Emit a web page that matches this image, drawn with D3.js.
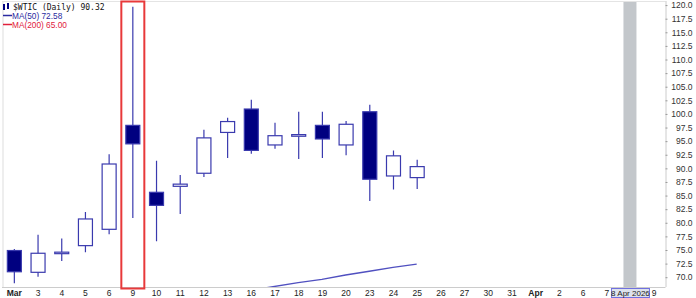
<!DOCTYPE html>
<html>
<head>
<meta charset="utf-8">
<script src="https://d3js.org/d3.v7.min.js"></script>
<style>
  body { margin: 0; padding: 0; background: #fff; }
  svg { display: block; font-family: "Liberation Sans", Arial, sans-serif; }
</style>
</head>
<body>
<div id="chart"></div>
<script>
// trading days shown on the axis (Mar 2 .. Apr 9, 2026)
const days = ["Mar", "3", "4", "5", "6", "9", "10", "11", "12", "13", "16", "17", "18", "19", "20",
  "23", "24", "25", "26", "27", "30", "31", "Apr", "2", "6", "7", "8", "9"];
const boldLabels = ["Mar", "Apr"];

// daily OHLC, in order from Mar 2
const opens  = [74.9, 70.9, 74.4, 75.8, 78.8, 97.9, 85.6, 86.7, 89.1, 96.6, 100.9, 94.3, 95.9, 97.9, 94.3, 100.4, 88.6, 88.3];
const highs  = [75.2, 77.8, 77.1, 82.0, 92.6, 119.7, 91.4, 88.8, 97.1, 99.3, 102.6, 98.4, 100.4, 100.4, 98.7, 101.7, 93.3, 91.6];
const lows   = [68.9, 70.1, 73.0, 74.6, 77.9, 80.9, 76.6, 81.6, 88.4, 91.9, 92.7, 93.6, 91.7, 91.9, 92.4, 84.0, 86.1, 86.2];
const closes = [71.0, 74.4, 74.6, 80.7, 90.8, 94.5, 83.2, 87.1, 95.6, 98.6, 93.3, 96.0, 96.2, 95.4, 98.1, 88.0, 92.3, 90.32];

// MA(50) from Mar 13 onwards (earlier values are below the visible range)
const maStart = 9;
const ma50 = [66.8, 67.6, 68.3, 69.0, 69.6, 70.4, 71.1, 71.8, 72.4];

const yTicks = d3.range(70, 120.01, 2.5);
const highlightDay = 5;   // Mar 9
const cursorDay = 26;     // Apr 8

const W = 696, H = 298;
const plot = { left: 2, right: 665.5, top: 1, bottom: 287 };

const svg = d3.select("#chart").append("svg").attr("width", W).attr("height", H);

const x = d3.scalePoint().domain(d3.range(days.length))
  .range([plot.left, plot.right]).padding(0.5);
const y = d3.scaleLinear().domain([68.2, 120.75]).range([plot.bottom, plot.top]);

svg.append("defs").append("clipPath").attr("id", "clip")
  .append("rect").attr("x", plot.left).attr("y", plot.top)
  .attr("width", plot.right - plot.left).attr("height", plot.bottom - plot.top);

// cursor band
svg.append("rect").attr("x", x(cursorDay) - 6.5).attr("y", plot.top)
  .attr("width", 13).attr("height", plot.bottom - plot.top).attr("fill", "#c3c7cb");

// frame
svg.append("line").attr("x1", plot.left + 1).attr("x2", plot.left + 1)
  .attr("y1", plot.top).attr("y2", plot.bottom).attr("stroke", "#ddd");
svg.append("line").attr("x1", plot.left).attr("x2", plot.right)
  .attr("y1", plot.top + 0.5).attr("y2", plot.top + 0.5).attr("stroke", "#e4e4e4");
svg.append("line").attr("x1", plot.left).attr("x2", plot.right)
  .attr("y1", plot.bottom + 0.5).attr("y2", plot.bottom + 0.5).attr("stroke", "#ccc");

// right axis
const yAxis = d3.axisRight(y).tickValues(yTicks).tickFormat(d3.format(".1f")).tickSize(2).tickPadding(0);
const gy = svg.append("g").attr("transform", `translate(${plot.right},0)`).call(yAxis);
gy.select(".domain").attr("stroke", "#ccc").attr("d", `M0.5,${plot.top}V${plot.bottom}`);
gy.selectAll(".tick line").attr("stroke", "#999");
gy.selectAll(".tick text").attr("x", 27).attr("text-anchor", "end")
  .attr("fill", "#333").style("font-size", "8.5px").style("font-family", "Liberation Sans, Arial, sans-serif");

// x labels
const xAxis = d3.axisBottom(x).tickFormat(i => days[i]).tickSize(0);
const gx = svg.append("g").attr("transform", `translate(0,${plot.bottom})`).call(xAxis);
gx.select(".domain").remove();
gx.selectAll(".tick text").attr("y", 8.5).attr("dy", 0).attr("fill", "#222").style("font-size", "8.5px")
  .style("font-family", "Liberation Sans, Arial, sans-serif")
  .style("font-weight", i => boldLabels.includes(days[i]) ? "bold" : "normal")
  .style("display", i => i === cursorDay ? "none" : null);

// cursor date label
const cg = svg.append("g");
cg.append("rect").attr("x", x(cursorDay) - 18.5).attr("y", 288.5).attr("width", 38).attr("height", 9)
  .attr("fill", "#dde2ec").attr("stroke", "#7070e0");
cg.append("text").attr("x", x(cursorDay) + 0.5).attr("y", 295.5).attr("text-anchor", "middle")
  .attr("fill", "#222").style("font-size", "8px").text("8 Apr 2026");

// candles
const g = svg.append("g").attr("clip-path", "url(#clip)");
const idx = d3.range(opens.length);
const stroke = "#3a3aae";
g.selectAll("line.wick").data(idx).join("line").attr("class", "wick")
  .attr("x1", i => x(i) + 0.5).attr("x2", i => x(i) + 0.5)
  .attr("y1", i => y(highs[i])).attr("y2", i => y(lows[i]))
  .attr("stroke", stroke).attr("stroke-width", 1.2);
g.selectAll("rect.body").data(idx).join("rect").attr("class", "body")
  .attr("x", i => x(i) - 6.5).attr("width", 14)
  .attr("y", i => y(Math.max(opens[i], closes[i])))
  .attr("height", i => Math.max(1.5, Math.abs(y(opens[i]) - y(closes[i]))))
  .attr("fill", i => closes[i] < opens[i] ? "#000080" : "#fff")
  .attr("stroke", stroke).attr("stroke-width", 1.2);

// MA(50)
const line = d3.line().x((d, k) => x(maStart + k)).y(d => y(d));
g.append("path").datum(ma50).attr("d", line).attr("fill", "none")
  .attr("stroke", "#5050c0").attr("stroke-width", 1.4);

// highlight box around Mar 9
svg.append("rect").attr("x", x(highlightDay) - 11).attr("y", 1.5)
  .attr("width", 23).attr("height", 287).attr("fill", "none")
  .attr("stroke", "#e8393a").attr("stroke-width", 2);

// legend
const lg = svg.append("g");
lg.append("rect").attr("x", 3).attr("y", 4).attr("width", 2).attr("height", 6).attr("fill", "#000080");
lg.append("rect").attr("x", 7).attr("y", 3).attr("width", 2).attr("height", 6).attr("fill", "#000080");
lg.append("text").attr("x", 13).attr("y", 10).attr("fill", "#111")
  .style("font-family", "DejaVu Sans Mono, monospace").style("font-size", "8px").text("$WTIC (Daily) 90.32");
lg.append("line").attr("x1", 3).attr("x2", 12).attr("y1", 15.5).attr("y2", 15.5)
  .attr("stroke", "#2a2aa0").attr("stroke-width", 1.5);
lg.append("text").attr("x", 12).attr("y", 19).attr("fill", "#2a2aa0")
  .style("font-size", "8.3px").text("MA(50) 72.58");
lg.append("line").attr("x1", 3).attr("x2", 12).attr("y1", 24.5).attr("y2", 24.5)
  .attr("stroke", "#e0203c").attr("stroke-width", 1.5);
lg.append("text").attr("x", 12).attr("y", 28).attr("fill", "#e0203c")
  .style("font-size", "8.3px").text("MA(200) 65.00");
</script>
</body>
</html>
